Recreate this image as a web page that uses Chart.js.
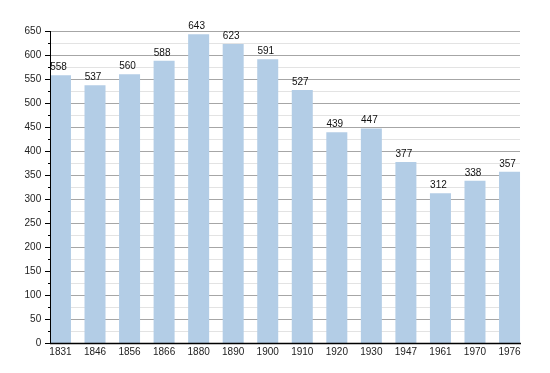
<!DOCTYPE html>
<html>
<head>
<meta charset="utf-8">
<style>
html,body{margin:0;padding:0;background:#fff;}
#wrap{width:550px;height:373px;position:relative;}
</style>
<script src="https://cdn.jsdelivr.net/npm/chart.js@4"></script>
</head>
<body>
<div id="wrap"><canvas id="c" width="550" height="373"></canvas></div>
<script>
const categories = ['1831','1846','1856','1866','1880','1890','1900','1910','1920','1930','1947','1961','1970','1976'];
const population = [558,537,560,588,643,623,591,527,439,447,377,312,338,357];
const yMax = 650;
const majorStep = 50;
const minorStep = 25;

const FONT = "'Liberation Sans', Arial, sans-serif";

const decor = {
  id: 'decor',
  beforeDatasetsDraw(chart) {
    const ctx = chart.ctx, ys = chart.scales.y;
    const meta = chart.getDatasetMeta(0).data;
    const L = Math.round(meta[0].x - meta[0].width / 2);
    const R = Math.round(meta[meta.length - 1].x + meta[meta.length - 1].width / 2);
    ctx.save();
    ctx.lineWidth = 1;
    for (let v = minorStep; v <= yMax; v += minorStep) {
      const py = Math.round(ys.getPixelForValue(v)) + 0.5;
      ctx.strokeStyle = (v % majorStep === 0) ? '#a6a6a6' : '#e3e3e3';
      ctx.beginPath(); ctx.moveTo(L, py); ctx.lineTo(R, py); ctx.stroke();
    }
    ctx.restore();
  },
  afterDatasetsDraw(chart) {
    const ctx = chart.ctx, ys = chart.scales.y;
    const meta = chart.getDatasetMeta(0).data;
    const L = Math.round(meta[0].x - meta[0].width / 2);
    const R = Math.round(meta[meta.length - 1].x + meta[meta.length - 1].width / 2);
    const top = Math.round(ys.getPixelForValue(yMax));
    const bot = Math.round(ys.getPixelForValue(0));
    ctx.save();
    ctx.strokeStyle = '#000';
    ctx.lineWidth = 1;
    ctx.beginPath();
    ctx.moveTo(L + 0.5, top); ctx.lineTo(L + 0.5, bot + 1);
    ctx.stroke();
    ctx.lineWidth = 1.5;
    ctx.beginPath();
    ctx.moveTo(L, bot + 0.5); ctx.lineTo(R + 1, bot + 0.5);
    ctx.stroke();
    ctx.lineWidth = 1;
    for (let v = 0; v <= yMax; v += minorStep) {
      const py = Math.round(ys.getPixelForValue(v)) + 0.5;
      const len = (v % majorStep === 0) ? 5 : 2;
      ctx.beginPath(); ctx.moveTo(L - len, py); ctx.lineTo(L, py); ctx.stroke();
    }
    // value labels
    ctx.fillStyle = '#111';
    ctx.font = '10px ' + FONT;
    ctx.textAlign = 'center';
    ctx.textBaseline = 'alphabetic';
    meta.forEach((bar, i) => {
      ctx.fillText(String(population[i]), bar.x - 2, bar.y - 5);
    });
    ctx.restore();
  }
};

new Chart(document.getElementById('c'), {
  type: 'bar',
  data: {
    labels: categories,
    datasets: [{
      data: population,
      backgroundColor: '#b3cde6',
      borderWidth: 0,
      barPercentage: 0.608,
      categoryPercentage: 1.0
    }]
  },
  plugins: [decor],
  options: {
    responsive: false,
    animation: false,
    devicePixelRatio: 1,
    layout: { padding: { top: 31, right: 23.2, left: 0, bottom: 0 } },
    plugins: { legend: { display: false }, tooltip: { enabled: false } },
    scales: {
      x: {
        offset: true,
        grid: { display: false, drawTicks: false },
        border: { display: false },
        ticks: { color: '#222', font: { family: FONT, size: 10 }, padding: 3, maxRotation: 0, autoSkip: false },
        afterFit(s) { s.height = 30; }
      },
      y: {
        min: 0, max: yMax,
        grid: { display: false, drawTicks: false },
        border: { display: false },
        ticks: { stepSize: majorStep, color: '#222', font: { family: FONT, size: 10 }, padding: 2 },
        afterFit(s) { s.width = 43.2; }
      }
    }
  }
});
</script>
</body>
</html>
